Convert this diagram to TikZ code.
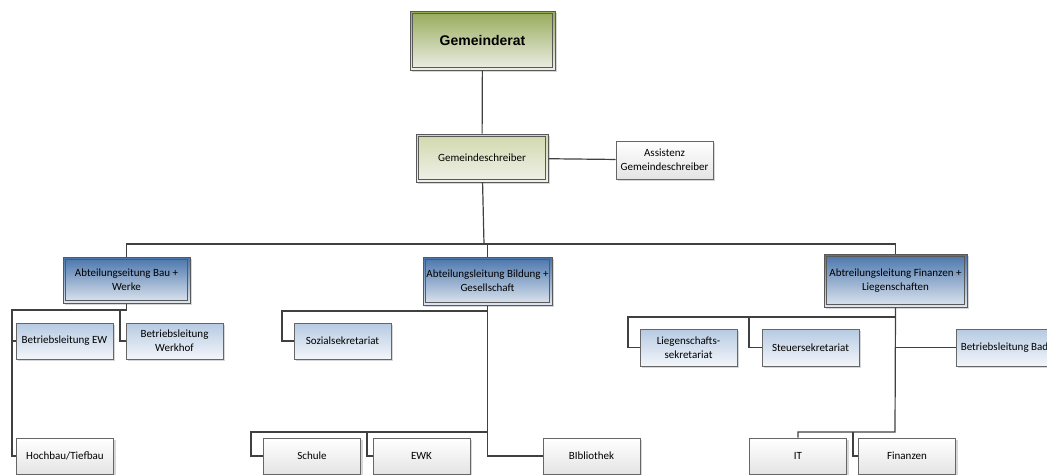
\documentclass[tikz,border=0pt]{standalone}
\usepackage{fontspec}
\setmainfont{Carlito}
\newfontfamily\arialfont{Liberation Sans}
\usetikzlibrary{shadows,positioning}

\definecolor{ratoben}{HTML}{95AA58}
\definecolor{ratunten}{HTML}{EEEFE8}
\definecolor{schroben}{HTML}{D1D8AC}
\definecolor{schrunten}{HTML}{F0F1EA}
\definecolor{blauoben}{HTML}{4874AB}
\definecolor{blauunten}{HTML}{DFE7F0}
\definecolor{hellblau}{HTML}{B6CAE2}
\definecolor{hellblauunten}{HTML}{F3F6FA}
\definecolor{grauunten}{HTML}{E4E4E4}
\definecolor{linienfarbe}{HTML}{404040}

\tikzset{
  kasten/.style={draw=black!60, line width=0.7pt, inner sep=1pt, align=center,
    font=\fontsize{11}{14}\selectfont,
    drop shadow={shadow xshift=2pt, shadow yshift=-2pt, opacity=0.35, fill=black!45}},
  doppel/.style={kasten, draw=black!65, line width=1pt,
    path picture={\draw[black!65, line width=0.7pt]
      ([shift={(2.4pt,2.4pt)}]path picture bounding box.south west) rectangle
      ([shift={(-2.4pt,-2.4pt)}]path picture bounding box.north east);}},
  rat/.style={doppel, top color=ratoben, bottom color=ratunten,
    minimum width=145pt, minimum height=59pt, font=\arialfont\bfseries\fontsize{14}{16}\selectfont},
  schreiber/.style={doppel, top color=schroben, bottom color=schrunten,
    minimum width=132pt, minimum height=48pt},
  leitung/.style={doppel, top color=blauoben, bottom color=blauunten, minimum height=46pt},
  stelle/.style={kasten, top color=hellblau, bottom color=hellblauunten,
    minimum width=97pt, minimum height=36pt},
  einheit/.style={kasten, top color=white, bottom color=grauunten,
    minimum width=97pt, minimum height=36pt},
  linie/.style={draw=linienfarbe, line width=1.2pt}
}

\begin{document}
\begin{tikzpicture}[x=1pt,y=-1pt]
\useasboundingbox (0,0) rectangle (1047,474);

% Kopf
\node[rat] (rat) at (482.5,40.5) {Gemeinderat};
\node[schreiber] (schreiber) at (482,158) {Gemeindeschreiber};
\node[einheit, minimum height=38pt] (assist) at (664.5,160) {Assistenz\\Gemeindeschreiber};

% Abteilungen
\node[leitung, minimum width=127pt] (bau) at (126.5,280) {Abteilungseitung Bau +\\Werke};
\node[leitung, minimum width=129pt, minimum height=48pt] (bildung) at (487.5,281) {Abteilungsleitung Bildung +\\Gesellschaft};
\node[leitung, minimum width=143pt, minimum height=53pt] (finanz) at (895.5,280.5) {Abtreilungsleitung Finanzen +\\Liegenschaften};

% Bau + Werke
\node[stelle] (ew) at (64.5,341) {Betriebsleitung EW};
\node[stelle] (werkhof) at (174.5,341) {Betriebsleitung\\Werkhof};
\node[einheit] (hochbau) at (65,456) {Hochbau/Tiefbau};

% Bildung + Gesellschaft
\node[stelle] (sozial) at (342.5,341) {Sozialsekretariat};
\node[einheit] (schule) at (312,456) {Schule};
\node[einheit] (ewk) at (421.5,456) {EWK};
\node[einheit] (biblio) at (591.5,456) {BIbliothek};

% Finanzen + Liegenschaften
\node[stelle, minimum height=37pt] (lieg) at (688.5,347.5) {Liegenschafts-\\sekretariat};
\node[stelle, minimum height=37pt] (steuer) at (810.5,347.5) {Steuersekretariat};
\node[stelle, minimum height=37pt] (bad) at (1004.5,347.5) {Betriebsleitung Bad};
\node[einheit] (it) at (798,456) {IT};
\node[einheit] (fin) at (907,456) {Finanzen};

% Verbindungen
\coordinate (bus) at (484,244);
\coordinate (baul) at (12,310);
\coordinate (bauw) at (120,310);
\coordinate (sozl) at (282,311);
\coordinate (bildb) at (488,432);
\coordinate (schl) at (251,432);
\coordinate (ewkl) at (367,432);
\coordinate (liegl) at (628,317);
\coordinate (steuerl) at (749,317);
\coordinate (finb) at (895,432);
\coordinate (finr) at (853,432);

\draw[linie] (rat) -- (schreiber);
\draw[linie] (schreiber) -- (assist);
\draw[linie] (schreiber) -- (bus);
\draw[linie] (bau.north) |- (bus) -| (finanz.north);
\draw[linie] (bildung.north) |- (bus);

\draw[linie] (bau.south) |- (baul) |- (hochbau.west);
\draw[linie] (baul) |- (ew.west);
\draw[linie] (bauw) |- (werkhof.west);

\draw[linie] (bildung.south) |- (sozl) |- (sozial.west);
\draw[linie] (bildung.south) |- (biblio.west);
\draw[linie] (bildb) -- (schl) |- (schule.west);
\draw[linie] (ewkl) |- (ewk.west);

\draw[linie] (finanz.south) |- (liegl) |- (lieg.west);
\draw[linie] (steuerl) |- (steuer.west);
\draw[linie] (finanz.south) |- (bad.west);
\draw[linie] (finanz.south) -- (finb) -| (it.north);
\draw[linie] (finr) |- (fin.west);

\end{tikzpicture}
\end{document}
